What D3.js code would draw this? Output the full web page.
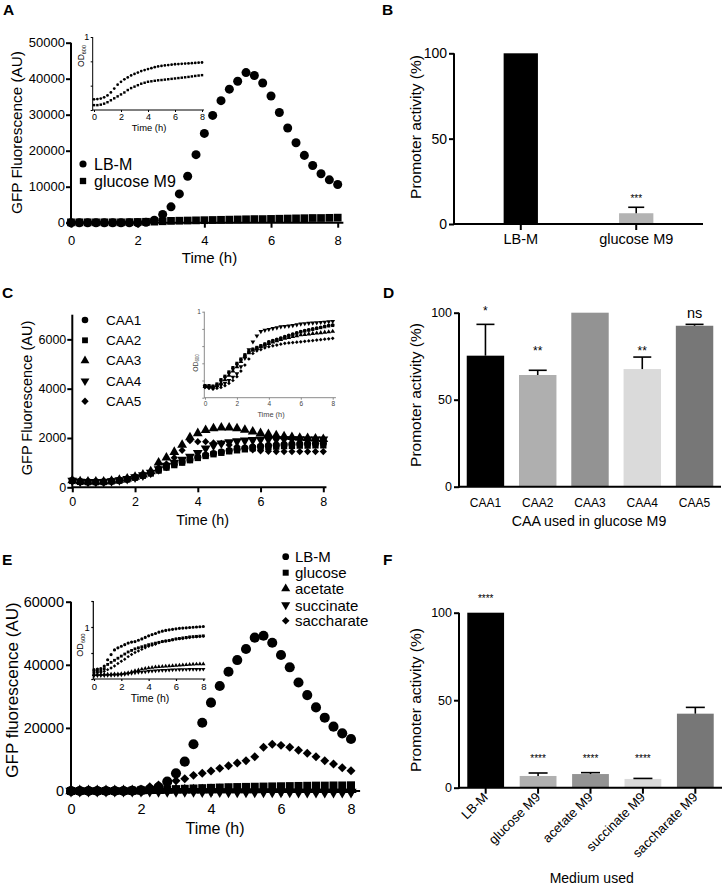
<!DOCTYPE html>
<html><head><meta charset="utf-8">
<script src="https://cdn.jsdelivr.net/npm/d3@7"></script>
<style>body{margin:0;background:#fff} svg{display:block}</style>
</head><body><svg id="c" width="723" height="887"></svg>
<script>
const FONT = '"Liberation Sans", Arial, Helvetica, sans-serif';
// ---------- data ----------
const times = [0,0.25,0.5,0.75,1,1.25,1.5,1.75,2,2.25,2.5,2.75,3,3.25,3.5,3.75,4,4.25,4.5,4.75,5,5.25,5.5,5.75,6,6.25,6.5,6.75,7,7.25,7.5,7.75,8];
const timeTicks = [0,2,4,6,8];

// Panel A
const A_names = ["LB-M","glucose M9"];
const A_LBM = [0,0,0,0,0,0,0,0,0,100,700,2300,4400,8000,12900,18900,24800,29800,33900,37100,39300,41700,40900,38800,35200,30600,26300,22200,18700,15900,13600,11900,10600];
const A_Glc = [100,100,100,100,100,100,100,150,200,250,300,400,500,550,600,650,700,750,800,850,900,950,1000,1000,1050,1100,1150,1200,1250,1300,1300,1350,1400];
const A_yTicks = [0,10000,20000,30000,40000,50000];
const AI_LBM = [0.36,0.362,0.368,0.38,0.40,0.43,0.47,0.51,0.54,0.565,0.585,0.605,0.62,0.635,0.65,0.66,0.67,0.68,0.69,0.698,0.703,0.708,0.712,0.716,0.72,0.722,0.725,0.727,0.728,0.731,0.733,0.736,0.738];
const AI_Glc = [0.30,0.30,0.305,0.315,0.33,0.35,0.37,0.39,0.41,0.43,0.455,0.475,0.49,0.505,0.52,0.53,0.54,0.545,0.55,0.555,0.558,0.562,0.566,0.57,0.574,0.578,0.582,0.586,0.59,0.595,0.6,0.604,0.608];
const AI_yTicks = [0.25,0.5,0.75,1];

// Panel B
const B_cats = ["LB-M","glucose M9"];
const B_vals = [100,6.3];
const B_errs = [0,3.5];
const B_ann = ["","***"];
const B_annLev = [null,12.7];

// Panel C
const C_names = ["CAA1","CAA2","CAA3","CAA4","CAA5"];
const C1 = [270,230,220,220,220,250,280,330,400,480,580,700,820,930,1030,1120,1220,1300,1370,1430,1490,1540,1590,1630,1660,1690,1710,1730,1750,1760,1770,1780,1790];
const C2 = [260,220,210,210,215,240,270,320,390,470,560,680,800,900,1000,1100,1190,1270,1340,1400,1460,1500,1540,1580,1610,1630,1650,1670,1680,1690,1690,1700,1700];
const C3 = [280,240,230,230,230,260,300,350,420,510,640,1000,1200,1430,1720,2020,2190,2320,2390,2420,2420,2390,2330,2260,2190,2150,2100,2060,2030,2000,1990,1970,1950];
const C4 = [270,230,220,220,220,250,290,340,410,490,600,740,880,1000,1120,1250,1400,1580,1700,1780,1830,1870,1900,1920,1940,1950,1950,1960,1960,1960,1950,1950,1950];
const C5 = [260,220,210,210,210,240,280,330,400,480,590,800,950,1200,1500,1890,1850,1850,1800,1780,1720,1650,1580,1520,1480,1460,1450,1450,1450,1450,1450,1450,1450];
const C_yTicks = [0,2000,4000,6000];
const CI1 = [0.14,0.135,0.13,0.15,0.2,0.24,0.29,0.34,0.39,0.44,0.49,0.53,0.56,0.58,0.6,0.62,0.65,0.665,0.68,0.695,0.71,0.725,0.74,0.755,0.77,0.78,0.79,0.8,0.81,0.82,0.83,0.84,0.845];
const CI2 = [0.14,0.14,0.135,0.16,0.21,0.25,0.3,0.35,0.4,0.45,0.5,0.54,0.565,0.585,0.605,0.625,0.645,0.66,0.675,0.69,0.705,0.72,0.735,0.75,0.765,0.775,0.785,0.795,0.805,0.815,0.825,0.835,0.84];
const CI3 = [0.13,0.125,0.12,0.14,0.17,0.21,0.26,0.31,0.36,0.42,0.48,0.52,0.55,0.57,0.59,0.61,0.63,0.645,0.66,0.675,0.69,0.7,0.71,0.72,0.73,0.735,0.74,0.745,0.75,0.755,0.76,0.765,0.77];
const CI4 = [0.13,0.12,0.115,0.125,0.145,0.17,0.2,0.24,0.28,0.36,0.46,0.56,0.65,0.72,0.77,0.785,0.795,0.805,0.815,0.825,0.83,0.835,0.84,0.85,0.857,0.862,0.866,0.87,0.873,0.877,0.88,0.884,0.888];
const CI5 = [0.12,0.11,0.1,0.11,0.12,0.14,0.167,0.2,0.244,0.31,0.38,0.45,0.515,0.545,0.56,0.58,0.593,0.603,0.612,0.622,0.632,0.637,0.641,0.646,0.65,0.655,0.66,0.665,0.67,0.675,0.68,0.685,0.69];
const CI_yTicks = [0,0.2,0.4,0.6,0.8,1];

// Panel D
const D_cats = ["CAA1","CAA2","CAA3","CAA4","CAA5"];
const D_vals = [75.3,64.2,100,67.6,92.5];
const D_errs = [18,2.7,0,6.9,0.8];
const D_ann = ["*","**","","**","ns"];
const D_annLev = [98.9,75.9,null,75.9,96.8];

// Panel E
const E_names = ["LB-M","glucose","acetate","succinate","saccharate"];
const E_LBM = [0,0,0,0,0,0,0,100,200,500,1200,2960,5600,9300,14800,21650,28000,33270,37800,41500,45000,48600,49200,47000,43100,39200,34400,30400,26500,23240,20400,18270,16480];
const E_Glc = [0,0,0,0,0,0,0,100,200,300,400,500,600,700,800,900,1000,1100,1200,1250,1300,1350,1400,1450,1500,1550,1600,1650,1700,1700,1750,1750,1800];
const E_Ace = [0,0,0,0,0,0,0,0,0,50,100,150,200,200,250,250,300,300,300,350,350,350,400,400,400,400,400,400,400,400,400,400,400];
const E_Suc = [0,0,0,0,0,0,0,0,0,0,-50,-50,-100,-100,-100,-150,-150,-150,-200,-200,-200,-200,-250,-250,-250,-250,-300,-300,-300,-300,-300,-300,-300];
const E_Sac = [0,0,0,0,0,0,100,200,400,1370,1900,2500,3270,3900,4960,5600,6340,7180,8030,8870,9600,10880,13840,14790,14470,13840,12890,11940,10880,9610,8560,7390,6440];
const E_yTicks = [0,20000,40000,60000];
const EI_LBM = [0.18,0.19,0.2,0.25,0.37,0.47,0.56,0.6,0.63,0.66,0.69,0.71,0.72,0.745,0.77,0.8,0.83,0.855,0.875,0.9,0.92,0.935,0.945,0.955,0.965,0.975,0.98,0.985,0.99,0.995,1.0,1.005,1.01];
const EI_Glc = [0.15,0.15,0.16,0.2,0.28,0.32,0.36,0.4,0.44,0.48,0.52,0.55,0.58,0.6,0.62,0.64,0.66,0.675,0.69,0.705,0.72,0.73,0.74,0.755,0.77,0.78,0.79,0.8,0.81,0.815,0.82,0.825,0.83];
const EI_Ace = [0.083,0.085,0.088,0.09,0.092,0.094,0.096,0.098,0.1,0.11,0.12,0.14,0.16,0.175,0.19,0.2,0.21,0.22,0.23,0.235,0.24,0.245,0.25,0.255,0.26,0.265,0.27,0.275,0.28,0.283,0.286,0.288,0.29];
const EI_Suc = [0.064,0.065,0.066,0.068,0.07,0.072,0.075,0.078,0.083,0.09,0.1,0.11,0.12,0.13,0.135,0.14,0.147,0.152,0.157,0.162,0.167,0.17,0.173,0.176,0.18,0.182,0.184,0.185,0.186,0.187,0.188,0.189,0.19];
const EI_Sac = [0.115,0.12,0.13,0.15,0.18,0.21,0.25,0.3,0.34,0.38,0.43,0.47,0.51,0.54,0.57,0.6,0.63,0.65,0.67,0.695,0.72,0.73,0.74,0.755,0.77,0.775,0.78,0.79,0.8,0.805,0.81,0.815,0.82];
const EI_yTicks = [0,0.5,1,1.5];

// Panel F
const F_cats = ["LB-M","glucose M9","acetate M9","succinate M9","saccharate M9"];
const F_vals = [100,6.7,7.8,5.0,42.3];
const F_errs = [0,1.7,0.8,0.3,3.6];
const F_ann = ["****","****","****","****",""];
const F_annLev = [105.9,14.5,14.5,14.5,null];
const barTicks = [0,50,100];

// ---------- helpers ----------
const svg = d3.select('#c');
const SYM = {circle:d3.symbolCircle, square:d3.symbolSquare, triangle:d3.symbolTriangle, down:d3.symbolTriangle, diamond:d3.symbolSquare};
const ROT = {down:' rotate(180)', diamond:' rotate(45)'};

function drawSeries(g, x, y, vals, sym, size, color){
  const gen = d3.symbol().type(SYM[sym]).size(size);
  g.append('g').selectAll('path').data(vals.map((v,i)=>[times[i], v])).join('path')
    .attr('d', gen)
    .attr('transform', d => `translate(${x(d[0])},${y(d[1])})` + (ROT[sym] || ''))
    .attr('fill', color || '#000');
}

function text(g, str, x, y, fs, opts={}){
  const t = g.append('text').attr('x', x).attr('y', y)
    .attr('font-family', FONT).attr('font-size', fs)
    .attr('fill', opts.fill || '#000')
    .attr('text-anchor', opts.anchor || 'middle');
  if (opts.weight) t.attr('font-weight', opts.weight);
  if (opts.rotate != null) t.attr('transform', `rotate(${opts.rotate},${x},${y})`);
  if (opts.db) t.attr('dominant-baseline', opts.db);
  t.text(str);
  return t;
}

function odLabel(g, x, y, fs, color){
  const t = g.append('text').attr('x', x).attr('y', y)
    .attr('font-family', FONT).attr('font-size', fs).attr('fill', color || '#000')
    .attr('text-anchor','middle').attr('dominant-baseline','central')
    .attr('transform', `rotate(-90,${x},${y})`);
  t.append('tspan').text('OD');
  t.append('tspan').attr('font-size', fs*0.65).attr('dy', fs*0.3).text('600');
}

function styleAxis(ga, fs, color, sw, tcol){
  ga.attr('font-family', FONT).attr('font-size', fs);
  ga.select('.domain').remove();
  ga.selectAll('.tick line').attr('stroke', color).attr('stroke-width', sw);
  ga.selectAll('.tick text').attr('fill', tcol || '#000');
}

function linePanel(o){
  const g = svg.append('g');
  const x = d3.scaleLinear().domain([0,8]).range(o.xr);
  const y = d3.scaleLinear().domain(o.yd).range(o.yr);
  const col = o.axisColor || '#000';
  const y0 = y(o.yd[0]);
  // axis lines
  g.append('line').attr('x1', o.ax).attr('x2', o.ax).attr('y1', y0 + o.sw/2).attr('y2', y(o.yd[1]))
    .attr('stroke', col).attr('stroke-width', o.sw);
  g.append('line').attr('x1', o.ax).attr('x2', x(o.xEnd)).attr('y1', y0).attr('y2', y0)
    .attr('stroke', col).attr('stroke-width', o.sw);
  const gy = g.append('g').attr('transform', `translate(${o.ax},0)`)
    .call(d3.axisLeft(y).tickValues(o.yt).tickSize(o.ts).tickSizeOuter(0).tickPadding(o.ytp)
      .tickFormat(o.yfmt || (d => d)));
  styleAxis(gy, o.fs, col, o.sw, o.textColor);
  const gx = g.append('g').attr('transform', `translate(0,${y0})`)
    .call(d3.axisBottom(x).tickValues(timeTicks).tickSize(o.ts).tickSizeOuter(0).tickPadding(o.xtp).tickFormat(d => d));
  styleAxis(gx, o.fs, col, o.sw, o.textColor);
  // series
  o.series.forEach(s => drawSeries(g, x, y, s.v, s.sym, s.size, s.color));
  // titles
  if (o.xTitle) text(g, o.xTitle.t, o.xTitle.x, o.xTitle.y, o.xTitle.fs, {fill: o.textColor});
  if (o.yTitle) text(g, o.yTitle.t, o.yTitle.x, o.yTitle.y, o.yTitle.fs, {rotate:-90, db:'central', fill:o.textColor});
  if (o.od) odLabel(g, o.od.x, o.od.y, o.od.fs, o.textColor);
  // legend
  if (o.legend){
    const L = o.legend;
    const lg = g.append('g');
    L.names.forEach((nm, i) => {
      const s = o.series[i];
      lg.append('path').attr('d', d3.symbol().type(SYM[s.sym]).size(s.sym==='diamond' ? L.size*0.8 : L.size)())
        .attr('transform', `translate(${L.x},${L.ys[i]})` + (ROT[s.sym] || ''))
        .attr('fill', '#000');
      text(lg, nm, L.tx, L.ys[i], L.fs, {anchor:'start', db:'central'});
    });
  }
  return g;
}

function barPanel(o){
  const g = svg.append('g');
  const x = d3.scaleBand().domain(o.cats).range(o.xr).paddingInner(o.pi).paddingOuter(o.po);
  const y = d3.scaleLinear().domain([0,100]).range(o.yr);
  const bw = x.bandwidth();
  const rows = o.cats.map((c,i) => ({c, v:o.vals[i], e:o.errs[i], col:o.colors[i], a:o.ann[i], al:o.annLev[i], afs:(o.annFs ? o.annFs[i] : o.afs)}));
  g.selectAll('rect').data(rows).join('rect')
    .attr('x', d => x(d.c)).attr('y', d => y(d.v)).attr('width', bw).attr('height', d => y(0) - y(d.v))
    .attr('fill', d => d.col);
  const eb = rows.filter(d => d.e > 0);
  g.append('g').selectAll('line').data(eb).join('line')
    .attr('x1', d => x(d.c) + bw/2).attr('x2', d => x(d.c) + bw/2)
    .attr('y1', d => y(d.v)).attr('y2', d => y(d.v + d.e))
    .attr('stroke', '#000').attr('stroke-width', 1.6);
  g.append('g').selectAll('line').data(eb).join('line')
    .attr('x1', d => x(d.c) + bw/2 - o.cap/2).attr('x2', d => x(d.c) + bw/2 + o.cap/2)
    .attr('y1', d => y(d.v + d.e)).attr('y2', d => y(d.v + d.e))
    .attr('stroke', '#000').attr('stroke-width', 1.6);
  rows.filter(d => d.a).forEach(d => text(g, d.a, x(d.c) + bw/2, y(d.al), d.afs));
  // axes
  g.append('line').attr('x1', o.ax).attr('x2', o.ax).attr('y1', y(0) + 1).attr('y2', y(100))
    .attr('stroke', '#000').attr('stroke-width', 2);
  g.append('line').attr('x1', o.ax).attr('x2', o.xr[1]).attr('y1', y(0)).attr('y2', y(0))
    .attr('stroke', '#000').attr('stroke-width', 2);
  const gy = g.append('g').attr('transform', `translate(${o.ax},0)`)
    .call(d3.axisLeft(y).tickValues(barTicks).tickSize(5).tickSizeOuter(0).tickPadding(2).tickFormat(d => d));
  styleAxis(gy, o.fs, '#000', 2);
  if (o.xticks){
    g.append('g').selectAll('line').data(o.cats).join('line')
      .attr('x1', c => x(c) + bw/2).attr('x2', c => x(c) + bw/2)
      .attr('y1', y(0)).attr('y2', y(0) + 6).attr('stroke', '#000').attr('stroke-width', 2);
  }
  o.cats.forEach(c => {
    if (o.rot){
      text(g, c, x(c) + bw/2 + 3, o.labY, o.cfs, {anchor:'end', rotate:-45});
    } else {
      text(g, c, x(c) + bw/2, o.labY, o.cfs);
    }
  });
  text(g, o.yTitle.t, o.yTitle.x, o.yTitle.y, o.yTitle.fs, {rotate:-90, db:'central'});
  if (o.xTitle) text(g, o.xTitle.t, o.xTitle.x, o.xTitle.y, o.xTitle.fs);
}

// ---------- panel letters ----------
[["A",3,15],["B",382,15],["C",2,298],["D",383,298],["E",2,565],["F",383,565]]
  .forEach(([l,x,y]) => text(svg, l, x, y, 15.5, {anchor:'start', weight:'bold'}));

// ---------- Panel A ----------
linePanel({
  xr:[71,337.7], yd:[0,50000], yr:[222.7,42.7], ax:71, xEnd:8.17, sw:2, ts:5, ytp:1, xtp:8, fs:13,
  yt:A_yTicks,
  series:[{v:A_LBM, sym:'circle', size:64},{v:A_Glc, sym:'square', size:60}],
  xTitle:{t:'Time (h)', x:209.5, y:263, fs:15},
  yTitle:{t:'GFP Fluorescence (AU)', x:16, y:132.5, fs:15.3},
  legend:{names:A_names, x:83, ys:[164,181], tx:94, fs:16, size:40}
});
linePanel({
  xr:[94,202], yd:[0.25,1], yr:[110,37], ax:92.7, xEnd:8.15, sw:1, ts:2, ytp:1.5, xtp:2, fs:9,
  yt:AI_yTicks, yfmt: d => d === 1 ? '1' : '',
  series:[{v:AI_LBM, sym:'circle', size:6},{v:AI_Glc, sym:'square', size:6}],
  xTitle:{t:'Time (h)', x:149, y:130.5, fs:9.4},
  od:{x:81, y:56, fs:8.5}
});

// ---------- Panel B ----------
barPanel({
  cats:B_cats, vals:B_vals, errs:B_errs, colors:['#000000','#b3b3b3'], ann:B_ann, annLev:B_annLev, afs:10,
  xr:[454,703], pi:0.703, po:0.43, yr:[224,53.3], ax:454, cap:16, fs:14, xticks:true,
  labY:244, cfs:14.5,
  yTitle:{t:'Promoter activity (%)', x:415, y:127, fs:15.5}
});

// ---------- Panel C ----------
linePanel({
  xr:[72.3,323.3], yd:[0,7000], yr:[487.3,314.7], ax:72.3, xEnd:8.1, sw:2, ts:5, ytp:1, xtp:5.3, fs:12.5,
  yt:C_yTicks,
  series:[{v:C1, sym:'circle', size:40},{v:C2, sym:'square', size:40},{v:C3, sym:'triangle', size:42},
          {v:C4, sym:'down', size:42},{v:C5, sym:'diamond', size:26}],
  xTitle:{t:'Time (h)', x:202.7, y:525, fs:14.3},
  yTitle:{t:'GFP Fluorescence (AU)', x:27, y:398, fs:14.5},
  legend:{names:C_names, x:85, ys:[320,340.3,360.7,381,401.3], tx:106, fs:13.5, size:34}
});
linePanel({
  xr:[205,332.7], yd:[0,1], yr:[397.7,311.7], ax:204.3, xEnd:8.2, sw:1, ts:2, ytp:1.5, xtp:2, fs:6.5,
  yt:CI_yTicks, yfmt: d => d === 1 ? '1' : '', axisColor:'#8a8a8a', textColor:'#444',
  series:[{v:CI1, sym:'circle', size:10},{v:CI2, sym:'square', size:10},{v:CI3, sym:'triangle', size:10},
          {v:CI4, sym:'down', size:10},{v:CI5, sym:'diamond', size:7}],
  xTitle:{t:'Time (h)', x:271, y:417.3, fs:7.4},
  od:{x:195, y:363, fs:6.8}
});

// ---------- Panel D ----------
barPanel({
  cats:D_cats, vals:D_vals, errs:D_errs, colors:['#000000','#afafaf','#939393','#dadada','#777777'],
  ann:D_ann, annLev:D_annLev, annFs:[12,12,12,12,14.5],
  xr:[459,721], pi:0.284, po:0.148, yr:[486.7,312.7], ax:459, cap:18, fs:12.5, xticks:false,
  labY:506.5, cfs:12,
  yTitle:{t:'Promoter activity (%)', x:415, y:395, fs:15.5},
  xTitle:{t:'CAA used in glucose M9', x:589, y:526, fs:14.2}
});

// ---------- Panel E ----------
linePanel({
  xr:[71,351], yd:[0,60000], yr:[791,601.7], ax:71, xEnd:8.26, sw:2, ts:5, ytp:2, xtp:7.7, fs:14.5,
  yt:E_yTicks,
  series:[{v:E_LBM, sym:'circle', size:80},{v:E_Glc, sym:'square', size:64},{v:E_Ace, sym:'triangle', size:55},
          {v:E_Suc, sym:'down', size:55},{v:E_Sac, sym:'diamond', size:40}],
  xTitle:{t:'Time (h)', x:215, y:834, fs:16},
  yTitle:{t:'GFP fluorescence (AU)', x:12, y:690, fs:17},
  legend:{names:E_names, x:285.7, ys:[556.7,572.7,588.7,605,620.7], tx:295, fs:15, size:36}
});
linePanel({
  xr:[94,203.3], yd:[0,1.5], yr:[679,601], ax:93.3, xEnd:8.15, sw:1.2, ts:2, ytp:1.5, xtp:2.5, fs:9.5,
  yt:EI_yTicks, yfmt: d => d === 1 ? '1' : '',
  series:[{v:EI_LBM, sym:'circle', size:8},{v:EI_Glc, sym:'square', size:8},{v:EI_Ace, sym:'triangle', size:8},
          {v:EI_Suc, sym:'down', size:8},{v:EI_Sac, sym:'diamond', size:6}],
  xTitle:{t:'Time (h)', x:150, y:701.7, fs:10.5},
  od:{x:80, y:645, fs:9}
});

// ---------- Panel F ----------
barPanel({
  cats:F_cats, vals:F_vals, errs:F_errs, colors:['#000000','#b0b0b0','#939393','#dadada','#777777'],
  ann:F_ann, annLev:F_annLev, afs:10,
  xr:[459,722], pi:0.298, po:0.158, yr:[787.7,612.7], ax:459, cap:19, fs:12.5, xticks:true,
  labY:798, cfs:13, rot:true,
  yTitle:{t:'Promoter activity (%)', x:415, y:700, fs:15.5},
  xTitle:{t:'Medium used', x:591.7, y:883, fs:14}
});
</script>
</body></html>
